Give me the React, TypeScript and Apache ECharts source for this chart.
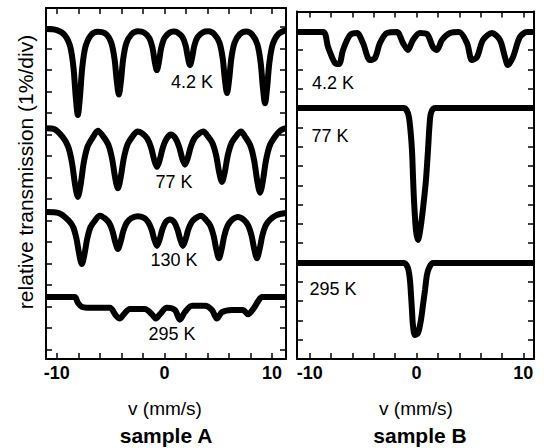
import React, { useEffect, useRef } from "react";
import * as echarts from "echarts";

// x-axis (velocity, mm/s)
const xTickLabels = [-10, 0, 10];
const xTicks = [-10, -8, -6, -4, -2, 0, 2, 4, 6, 8, 10];
// y-axis ticks (1 % per division)
const yTicksA = [0, 1, 2, 3, 4, 5, 6, 7, 8, 9, 10, 11, 12, 13, 14, 15];
const yTicksB = [1, 2, 3, 4, 5, 6, 7, 8, 9, 10, 11, 12, 13, 14, 15, 16, 17];

// ---- sample A : [velocity, relative transmission change (%)] ----
const a42Offset = 14.85;
const a42 = [
  [-11.0, 0.05], [-10.0, 0.0], [-9.24, -0.24], [-8.74, -0.79], [-8.44, -1.78], [-8.24, -3.08], [-8.04, -3.95],
  [-7.84, -3.08], [-7.64, -1.78], [-7.34, -0.79], [-6.84, -0.24], [-6.2, -0.08], [-5.43, -0.18], [-4.93, -0.6],
  [-4.63, -1.35], [-4.43, -2.34], [-4.23, -3.0], [-4.03, -2.34], [-3.83, -1.35], [-3.53, -0.6], [-3.03, -0.18],
  [-2.45, -0.05], [-1.9, -0.11], [-1.4, -0.37], [-1.1, -0.84], [-0.9, -1.45], [-0.7, -1.86], [-0.5, -1.45],
  [-0.3, -0.84], [0.0, -0.37], [0.5, -0.11], [0.85, -0.06], [1.18, -0.1], [1.68, -0.33], [1.98, -0.73],
  [2.18, -1.27], [2.38, -1.63], [2.58, -1.27], [2.78, -0.73], [3.08, -0.33], [3.58, -0.1], [4.1, -0.05],
  [4.62, -0.18], [5.12, -0.59], [5.42, -1.32], [5.62, -2.29], [5.82, -2.93], [6.02, -2.29], [6.22, -1.32],
  [6.52, -0.59], [7.02, -0.18], [7.6, -0.06], [8.15, -0.2], [8.65, -0.68], [8.95, -1.53], [9.15, -2.65],
  [9.35, -3.4], [9.55, -2.65], [9.75, -1.53], [10.05, -0.68], [10.55, -0.2], [11.3, 0.0],
];

const a77Offset = 10.29;
const a77 = [
  [-11.0, 0.0], [-10.2, -0.05], [-9.44, -0.42], [-8.94, -0.86], [-8.59, -1.6], [-8.29, -2.66], [-8.04, -3.2],
  [-7.79, -2.66], [-7.49, -1.6], [-7.14, -0.86], [-6.64, -0.42], [-6.18, -0.12], [-5.72, -0.36], [-5.22, -0.76],
  [-4.87, -1.4], [-4.57, -2.32], [-4.32, -2.8], [-4.07, -2.32], [-3.77, -1.4], [-3.42, -0.76], [-2.92, -0.36],
  [-2.5, -0.15], [-2.09, -0.23], [-1.59, -0.49], [-1.24, -0.9], [-0.94, -1.49], [-0.69, -1.8], [-0.44, -1.49],
  [-0.14, -0.9], [0.21, -0.49], [0.61, -0.3], [1.01, -0.46], [1.36, -0.85], [1.66, -1.41], [1.91, -1.7],
  [2.16, -1.41], [2.46, -0.85], [2.81, -0.46], [3.31, -0.22], [3.63, -0.15], [3.95, -0.32], [4.45, -0.68],
  [4.8, -1.25], [5.1, -2.08], [5.35, -2.5], [5.6, -2.08], [5.9, -1.25], [6.25, -0.68], [6.75, -0.32],
  [7.12, -0.15], [7.49, -0.39], [7.99, -0.81], [8.34, -1.5], [8.64, -2.49], [8.89, -3.0], [9.14, -2.49],
  [9.44, -1.5], [9.79, -0.81], [10.29, -0.39], [10.8, -0.1], [11.3, 0.0],
];

const a130Offset = 6.34;
const a130 = [
  [-11.0, 0.05], [-9.8, 0.0], [-8.87, -0.36], [-8.47, -0.66], [-8.17, -1.19], [-7.92, -1.9], [-7.67, -2.37],
  [-7.42, -1.9], [-7.17, -1.19], [-6.87, -0.66], [-6.47, -0.36], [-6.0, -0.12], [-5.52, -0.25], [-5.12, -0.47],
  [-4.82, -0.84], [-4.57, -1.34], [-4.32, -1.67], [-4.07, -1.34], [-3.82, -0.84], [-3.52, -0.47], [-3.12, -0.25],
  [-2.5, -0.15], [-1.89, -0.23], [-1.49, -0.43], [-1.19, -0.77], [-0.94, -1.22], [-0.69, -1.53], [-0.44, -1.22],
  [-0.19, -0.77], [0.11, -0.43], [0.52, -0.3], [0.92, -0.43], [1.22, -0.77], [1.47, -1.22], [1.72, -1.53],
  [1.97, -1.22], [2.22, -0.77], [2.52, -0.43], [2.92, -0.23], [3.4, -0.12], [3.87, -0.32], [4.27, -0.59],
  [4.57, -1.05], [4.82, -1.68], [5.07, -2.1], [5.32, -1.68], [5.57, -1.05], [5.87, -0.59], [6.27, -0.32],
  [6.83, -0.18], [7.4, -0.32], [7.8, -0.59], [8.1, -1.05], [8.35, -1.68], [8.6, -2.1], [8.85, -1.68],
  [9.1, -1.05], [9.4, -0.59], [9.8, -0.32], [10.4, -0.1], [11.3, 0.0],
];

const a295Offset = 2.43;
const a295 = [
  [-11.0, 0.0], [-8.34, 0.0], [-8.05, -0.25], [-7.67, -0.45], [-6.46, -0.5], [-5.07, -0.5], [-4.51, -0.85],
  [-4.14, -1.0], [-3.77, -0.8], [-3.2, -0.55], [-1.81, -0.55], [-1.16, -0.8], [-0.79, -1.0], [-0.42, -0.8],
  [0.23, -0.5], [0.98, -0.6], [1.44, -1.05], [1.9, -0.7], [2.56, -0.4], [3.77, -0.4], [4.42, -0.6],
  [4.88, -1.0], [5.35, -0.7], [6.28, -0.6], [7.3, -0.6], [7.77, -0.8], [8.33, -0.5], [8.7, -0.2],
  [9.07, 0.0], [11.3, 0.0],
];

// ---- sample B ----
const b42Offset = 16.94;
const b42 = [
  [-11.2, 0.0], [-8.76, 0.0], [-8.29, -0.78], [-7.64, -1.61], [-7.26, -1.66], [-6.89, -0.93], [-6.24, -0.16],
  [-5.58, -0.05], [-5.02, -0.57], [-4.36, -1.45], [-3.9, -1.35], [-3.43, -0.57], [-2.77, -0.05], [-1.84, 0.0],
  [-1.27, -0.57], [-0.81, -0.93], [-0.34, -0.41], [0.32, -0.05], [0.97, -0.1], [1.54, -0.78], [1.91, -0.93],
  [2.38, -0.41], [3.13, -0.05], [3.97, 0.0], [4.72, -0.57], [5.19, -1.45], [5.66, -1.3], [6.22, -0.41],
  [7.06, -0.05], [7.81, -0.41], [8.28, -1.3], [8.56, -1.71], [9.03, -1.3], [9.68, -0.26], [10.34, 0.0],
  [11.0, 0.0],
];

const b77Offset = 13.0;
const b77 = [
  [-11.2, 0.0], [-2.5, 0.0], [-1.18, 0.0], [-0.81, -0.26], [-0.62, -0.88], [-0.43, -2.18], [-0.34, -3.47],
  [-0.24, -4.77], [-0.06, -6.32], [0.13, -6.84], [0.41, -6.06], [0.69, -4.77], [0.88, -3.73], [1.07, -2.18],
  [1.21, -0.91], [1.35, -0.26], [1.72, 0.0], [11.0, 0.0],
];

const b295Offset = 4.97;
const b295 = [
  [-11.2, 0.0], [-1.18, 0.0], [-0.81, -0.26], [-0.62, -0.88], [-0.52, -1.66], [-0.43, -2.44], [-0.34, -3.21],
  [-0.15, -3.73], [0.13, -3.63], [0.41, -2.95], [0.6, -2.18], [0.79, -1.4], [0.97, -0.62], [1.16, -0.26],
  [1.54, 0.0], [11.0, 0.0],
];

const FONT = "'Liberation Sans', Arial, Helvetica, sans-serif";

function shift(pts: number[][], off: number) {
  return pts.map((p) => [p[0], p[1] + off]);
}

function spectrum(pts: number[][], off: number, axisIndex: number) {
  return {
    type: "line",
    xAxisIndex: axisIndex,
    yAxisIndex: axisIndex,
    data: shift(pts, off),
    showSymbol: false,
    smooth: 0.3,
    lineStyle: { color: "#000", width: 6 },
    silent: true,
  };
}

function xAx(grid: number, min: number, max: number, pos: string, labels: boolean) {
  return {
    type: "value",
    gridIndex: grid,
    position: pos,
    min,
    max,
    axisLine: { show: true, onZero: false, lineStyle: { color: "#000", width: 2 } },
    axisTick: { show: true, inside: true, length: 6, customValues: xTicks, lineStyle: { color: "#000", width: 1.5 } },
    axisLabel: labels
      ? { show: true, customValues: xTickLabels, color: "#000", fontSize: 18, fontWeight: "bold", fontFamily: FONT, margin: 5 }
      : { show: false },
    splitLine: { show: false },
  };
}

function yAx(grid: number, min: number, max: number, pos: string, ticks: number[]) {
  return {
    type: "value",
    gridIndex: grid,
    position: pos,
    min,
    max,
    axisLine: { show: true, onZero: false, lineStyle: { color: "#000", width: 2 } },
    axisTick: { show: true, inside: true, length: 6, customValues: ticks, lineStyle: { color: "#000", width: 1.5 } },
    axisLabel: { show: false },
    splitLine: { show: false },
  };
}

function txt(text: string, x: number, y: number, size: number, bold = false, rotation = 0) {
  return {
    type: "text",
    x,
    y,
    rotation,
    silent: true,
    style: {
      text,
      fill: "#000",
      fontSize: size,
      fontWeight: bold ? "bold" : "normal",
      fontFamily: FONT,
      align: "center",
      verticalAlign: "middle",
    },
  };
}

export default function App() {
  const ref = useRef<HTMLDivElement>(null);
  useEffect(() => {
    if (!ref.current) return;
    const chart = echarts.init(ref.current, undefined, { renderer: "svg" });
    chart.setOption({
      animation: false,
      backgroundColor: "#fff",
      grid: [
        { left: 46, top: 8, width: 240, height: 351 },
        { left: 297, top: 11.6, width: 237, height: 347.4 },
      ],
      xAxis: [
        xAx(0, -11, 11.3, "bottom", true),
        xAx(1, -11.2, 11.0, "bottom", true),
        xAx(0, -11, 11.3, "top", false),
        xAx(1, -11.2, 11.0, "top", false),
      ],
      yAxis: [
        yAx(0, -0.45, 15.88, "left", yTicksA),
        yAx(1, 0, 18, "left", yTicksB),
        yAx(0, -0.45, 15.88, "right", yTicksA),
        yAx(1, 0, 18, "right", yTicksB),
      ],
      series: [
        spectrum(a42, a42Offset, 0),
        spectrum(a77, a77Offset, 0),
        spectrum(a130, a130Offset, 0),
        spectrum(a295, a295Offset, 0),
        spectrum(b42, b42Offset, 1),
        spectrum(b77, b77Offset, 1),
        spectrum(b295, b295Offset, 1),
      ],
      graphic: [
        txt("relative transmission (1%/div)", 25, 172, 21, false, Math.PI / 2),
        txt("4.2 K", 192, 82, 18),
        txt("77 K", 174, 182, 18),
        txt("130 K", 174, 260, 18),
        txt("295 K", 172, 334, 18),
        txt("4.2 K", 333, 83, 18),
        txt("77 K", 330, 136, 18),
        txt("295 K", 333, 289, 18),
        txt("v (mm/s)", 165, 408, 19),
        txt("v (mm/s)", 416, 408, 19),
        txt("sample A", 166, 435, 21, true),
        txt("sample B", 420, 435, 21, true),
      ],
    });
    return () => chart.dispose();
  }, []);
  return (
    <div
      ref={ref}
      style={{ position: "fixed", left: 0, top: 0, width: 544, height: 448, background: "#fff" }}
    />
  );
}
